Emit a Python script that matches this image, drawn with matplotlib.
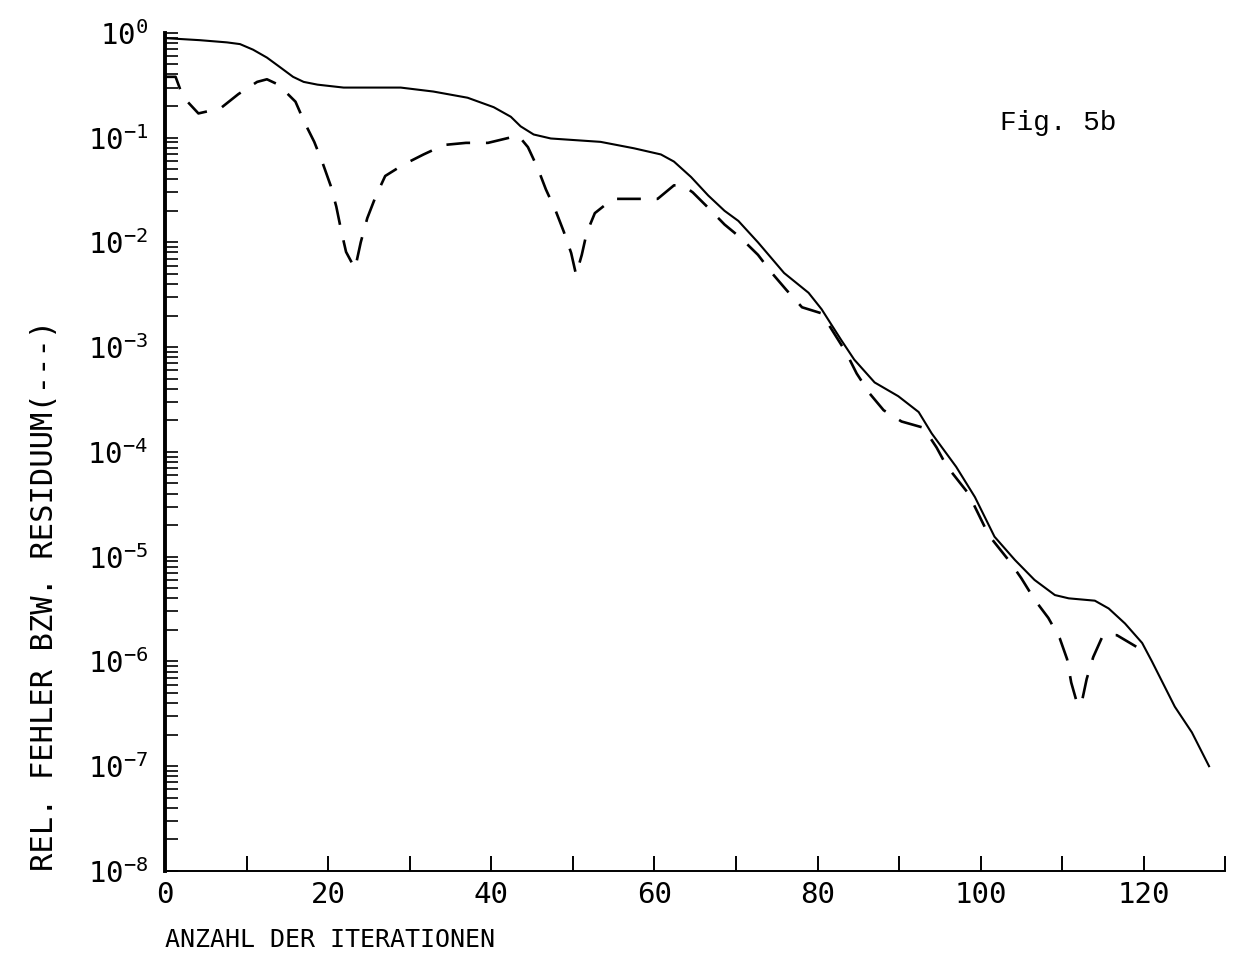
import numpy as np
import matplotlib
matplotlib.use('Agg')
import matplotlib.pyplot as plt
from matplotlib.ticker import FixedLocator, FuncFormatter, LogLocator, NullFormatter

# Fig. 5b: rel. Fehler (durchgezogen) und Residuum (gestrichelt)
plt.rcParams['font.family'] = ['DejaVu Sans Mono', 'DejaVu Sans']

# Fehler (durchgezogene Linie)
x_err = [0, 4.3, 7.6, 9.2, 10.8, 12.5, 14.1, 15.7, 17, 18.7, 21.9, 28.9, 32.9,
         37.1, 40.3, 42.4, 43.6, 45.2, 47.3, 53.4, 57.5, 60.8, 62.4, 64.5, 66.6,
         68.6, 70.3, 72.7, 75.9, 78.9, 80.5, 82.9, 84.5, 87, 89.9, 92.4, 94, 97,
         99.3, 101.7, 104.2, 106.6, 109.1, 110.8, 114, 115.7, 117.7, 119.8, 121,
         123.8, 125.9, 128]
y_err = [0.89, 0.85, 0.81, 0.78, 0.69, 0.58, 0.47, 0.38, 0.34, 0.32, 0.30, 0.30,
         0.275, 0.24, 0.195, 0.158, 0.128, 0.107, 0.098, 0.091, 0.079, 0.069,
         0.059, 0.042, 0.028, 0.020, 0.016, 0.010, 5.1e-3, 3.3e-3, 2.3e-3,
         1.17e-3, 7.6e-4, 4.6e-4, 3.4e-4, 2.4e-4, 1.5e-4, 7.2e-5, 3.7e-5,
         1.55e-5, 9.3e-6, 6.0e-6, 4.3e-6, 4.0e-6, 3.8e-6, 3.2e-6, 2.3e-6,
         1.5e-6, 1.0e-6, 3.7e-7, 2.1e-7, 1.0e-7]

# Residuum (gestrichelte Linie)
x_res = [0, 1.3, 2.2, 4.1, 6.8, 9, 11.3, 12.5, 13.9, 16, 17.1, 18.3, 19.3, 20.3,
         21, 21.6, 22.2, 23.3, 24, 24.8, 25.8, 27, 29.2, 31.7, 34.2, 36.9, 39.6,
         42.3, 43.3, 44.5, 45.7, 46.7, 47.9, 48.9, 49.8, 50.4, 51.1, 51.7, 52.7,
         54.9, 57.5, 60.4, 62.4, 63.5, 64.7, 66.7, 68.6, 70.6, 72.7, 74.4, 76.2,
         78.1, 80.5, 83.5, 84.8, 86.4, 88.1, 90.3, 93, 94.6, 95.8, 98.5, 101,
         103.6, 105, 106.6, 108.3, 109.7, 110.6, 111.1, 111.9, 112.4, 113,
         113.8, 115, 116.7, 119.3, 120]
y_res = [0.38, 0.38, 0.245, 0.17, 0.19, 0.26, 0.34, 0.36, 0.32, 0.22, 0.14,
         0.091, 0.058, 0.035, 0.022, 0.013, 8.1e-3, 5.6e-3, 0.010, 0.017, 0.027,
         0.043, 0.055, 0.069, 0.085, 0.089, 0.089, 0.10, 0.105, 0.081, 0.051,
         0.032, 0.020, 0.0126, 7.9e-3, 4.9e-3, 7.6e-3, 0.0123, 0.019, 0.026,
         0.026, 0.026, 0.035, 0.035, 0.030, 0.021, 0.0148, 0.011, 7.6e-3,
         5.1e-3, 3.5e-3, 2.4e-3, 2.1e-3, 8.9e-4, 5.6e-4, 3.6e-4, 2.5e-4,
         1.95e-4, 1.7e-4, 1.1e-4, 7.4e-5, 4.0e-5, 1.6e-5, 8.9e-6, 6.2e-6,
         3.9e-6, 2.6e-6, 1.66e-6, 1.05e-6, 6.3e-7, 3.8e-7, 4.1e-7, 6.8e-7,
         1.1e-6, 1.78e-6, 1.78e-6, 1.35e-6, 1.35e-6]

x_ticks = np.arange(0, 131, 10)

fig = plt.figure(figsize=(12.33, 9.59), dpi=100)
ax = fig.add_axes([0.1338, 0.0918, 0.86, 0.874])

ax.plot(x_err, y_err, color='black', lw=1.5, solid_joinstyle='round')
res_line, = ax.plot(x_res, y_res, color='black', lw=1.9)
res_line.set_dashes([9, 6])

ax.set_yscale('log')
ax.set_xlim(0, 130)
ax.set_ylim(1e-8, 1)

for s in ['top', 'right']:
    ax.spines[s].set_visible(False)
ax.spines['left'].set_linewidth(2.8)
ax.spines['bottom'].set_linewidth(1.4)

ax.xaxis.set_major_locator(FixedLocator(x_ticks))
ax.xaxis.set_major_formatter(FuncFormatter(lambda v, p: '%d' % v if v % 20 == 0 and v < 130 else ''))
ax.tick_params(axis='x', direction='in', length=11, width=1.4, pad=7, labelsize=21)

ax.yaxis.set_major_locator(LogLocator(base=10, numticks=20))
ax.yaxis.set_minor_locator(LogLocator(base=10, subs=np.arange(2, 10), numticks=20))
ax.yaxis.set_minor_formatter(NullFormatter())
ax.yaxis.set_major_formatter(FuncFormatter(lambda v, p: r'$\mathregular{10^{%d}}$' % round(np.log10(v))))
ax.tick_params(axis='y', which='both', direction='in', length=9, width=1.2, pad=12, labelsize=21)

fig.text(165 / 1233, 1 - 940 / 959, 'ANZAHL DER ITERATIONEN',
         fontsize=18, ha='left', va='center')
fig.text(0.036, 0.0918, 'REL. FEHLER BZW. RESIDUUM(---)', rotation=90,
         ha='center', va='bottom', fontsize=22)
fig.text(1000 / 1233, 1 - 130 / 959, 'Fig. 5b', family='Liberation Mono',
         fontsize=20, ha='left', va='baseline')

plt.savefig('out.png', dpi=100)
